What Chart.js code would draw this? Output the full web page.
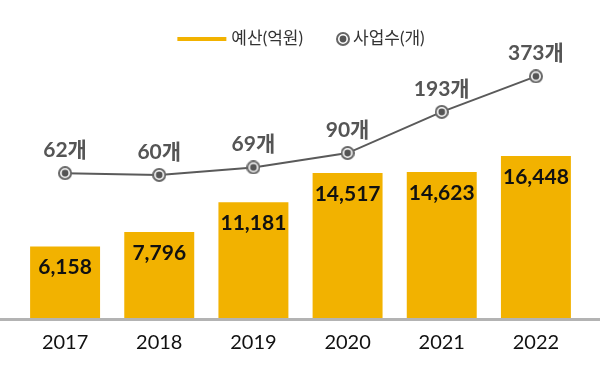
<!DOCTYPE html>
<html lang="ko">
<head>
<meta charset="utf-8">
<script src="https://cdn.jsdelivr.net/npm/chart.js@4/dist/chart.umd.min.js"></script>
<style>
    html, body { margin: 0; padding: 0; background: #fff; }
    #wrap { width: 600px; height: 380px; }
</style>
</head>
<body>
<div id="wrap"><canvas id="chart" width="600" height="380"></canvas></div>
<script>
// Data chart
const years = ['2017', '2018', '2019', '2020', '2021', '2022'];
const budget = [6158, 7796, 11181, 14517, 14623, 16448];
const projects = [62, 60, 69, 90, 193, 373];
const budgetLabel = '예산(억원)';
const projectLabel = '사업수(개)';

const FONT = "Lato, 'Noto Sans CJK KR', sans-serif";
const BAR_COLOR = '#F2B200';
const LINE_COLOR = '#5a5a5a';

// Marker titik: cincin abu-abu, celah putih, titik gelap
const makeDot = () => {
    const c = document.createElement('canvas');
    c.width = 14; c.height = 14;
    const g = c.getContext('2d');
    g.beginPath(); g.arc(7, 7, 6, 0, Math.PI * 2);
    g.fillStyle = '#fff'; g.fill();
    g.lineWidth = 2; g.strokeStyle = '#666'; g.stroke();
    g.beginPath(); g.arc(7, 7, 3.4, 0, Math.PI * 2);
    g.fillStyle = '#555'; g.fill();
    return c;
};
const dot = makeDot();

// Plugin: garis dasar abu-abu, label nilai, legenda
const extras = {
    id: 'extras',
    afterDatasetsDraw(chart) {
        const { ctx, chartArea } = chart;
        ctx.save();
        // garis dasar
        ctx.fillStyle = '#b3b3b3';
        ctx.fillRect(0, chartArea.bottom, chart.width, 3);

        // label nilai
        ctx.textAlign = 'center';
        ctx.textBaseline = 'middle';
        ctx.font = `bold 21px ${FONT}`;
        chart.data.datasets.forEach((ds, i) => {
            const meta = chart.getDatasetMeta(i);
            meta.data.forEach((el, j) => {
                if (ds.type === 'line') {
                    ctx.fillStyle = '#555';
                    ctx.fillText(projects[j] + '개', el.x, el.y - 23);
                } else {
                    ctx.fillStyle = '#111';
                    ctx.fillText(budget[j].toLocaleString('en-US'), el.x, el.y + 21);
                }
            });
        });

        // legenda
        ctx.font = `17px ${FONT}`;
        ctx.textAlign = 'left';
        const w1 = ctx.measureText(budgetLabel).width;
        const w2 = ctx.measureText(projectLabel).width;
        const total = 49 + 5 + w1 + 33 + 14 + 3 + w2;
        let x = chart.width / 2 - total / 2 + 1;
        const y = 39;
        ctx.fillStyle = BAR_COLOR;
        ctx.fillRect(x, y - 2, 49, 4);
        x += 54;
        ctx.fillStyle = '#333';
        ctx.fillText(budgetLabel, x, y);
        x += w1 + 33;
        ctx.drawImage(dot, x, y - 7);
        x += 17;
        ctx.fillText(projectLabel, x, y);
        ctx.restore();
    }
};

new Chart(document.getElementById('chart').getContext('2d'), {
    type: 'bar',
    data: {
        labels: years,
        datasets: [
            {
                type: 'line',
                label: projectLabel,
                data: projects,
                yAxisID: 'yCount',
                borderColor: LINE_COLOR,
                borderWidth: 2,
                pointStyle: dot,
                order: 0
            },
            {
                type: 'bar',
                label: budgetLabel,
                data: budget,
                yAxisID: 'yBudget',
                backgroundColor: BAR_COLOR,
                base: -2000,
                barPercentage: 0.743,
                categoryPercentage: 1,
                order: 1
            }
        ]
    },
    options: {
        responsive: false,
        animation: false,
        layout: { padding: { top: 60, left: 18, right: 17, bottom: 12 } },
        plugins: {
            legend: { display: false },
            tooltip: { enabled: false }
        },
        scales: {
            x: {
                grid: { display: false, drawTicks: false },
                border: { display: false },
                ticks: { color: '#111', font: { family: FONT, size: 20 }, padding: 13 }
            },
            yBudget: { display: false, min: -2000, max: 27400 },
            yCount: { type: 'logarithmic', display: false, min: 4.23, max: 505 }
        }
    },
    plugins: [extras]
});
</script>
</body>
</html>
